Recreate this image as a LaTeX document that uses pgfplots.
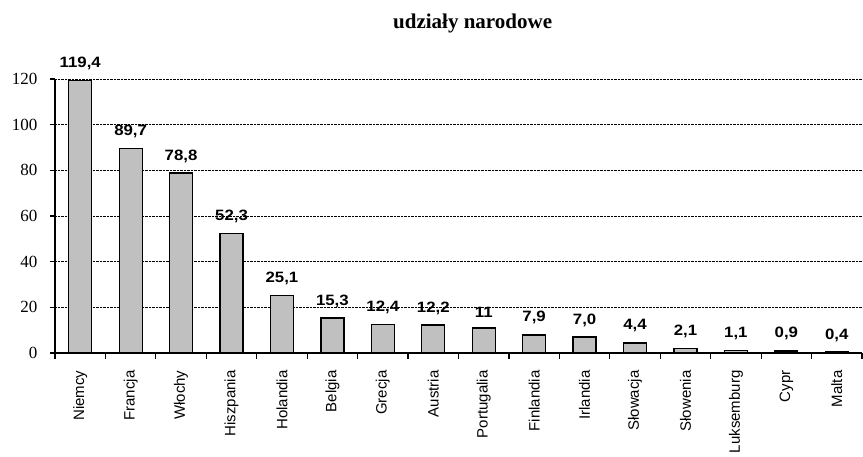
\documentclass[border=0pt]{standalone}
\usepackage{fontspec}
\setmainfont{Liberation Serif}
\newfontfamily\arial{Liberation Sans}
\newfontfamily\labfont[FakeStretch=1.12]{Liberation Sans Bold}
\usepackage{pgfplots}
\pgfplotsset{compat=1.18}
\usepackage{pgfplotstable}
\usetikzlibrary{calc}
\definecolor{barfill}{RGB}{192,192,192}
\pgfplotstableread{
x y lab
0 119.4 119,4
1 89.7 89,7
2 78.8 78,8
3 52.3 52,3
4 25.1 25,1
5 15.3 15,3
6 12.4 12,4
7 12.2 12,2
8 11 11
9 7.9 7,9
10 7.0 7,0
11 4.4 4,4
12 2.1 2,1
13 1.1 1,1
14 0.9 0,9
15 0.4 0,4
}\data
\begin{document}
\begin{tikzpicture}
\begin{axis}[
  scale only axis, width=807pt, height=274pt,
  xmin=-0.5, xmax=15.5, ymin=0, ymax=120,
  axis lines*=left,
  axis line style={line width=1.2pt},
  clip=false,
  ytick={0,20,...,120},
  ymajorgrids, grid style={densely dotted, black, line width=0.9pt},
  xtick={0,...,15},
  xticklabels={Niemcy,Francja,Włochy,Hiszpania,Holandia,Belgia,Grecja,Austria,Portugalia,Finlandia,Irlandia,Słowacja,Słowenia,Luksemburg,Cypr,Malta},
  major x tick style={draw=none},
  minor xtick={-0.5,0.5,...,15.5},
  tick align=outside,
  major tick length=5pt, minor tick length=6pt,
  tick style={line width=1.2pt, black},
  minor tick style={line width=1.2pt, black},
  xticklabel style={rotate=90, anchor=east, font=\arial\fontsize{15}{15}\selectfont, xshift=-9pt},
  yticklabel style={font=\fontsize{17}{17}\selectfont, xshift=-9pt},
  /pgf/number format/assume math mode=true,
]
\addplot[ybar, bar width=23pt, fill=barfill, draw=black, line width=1.3pt,
  nodes near coords, point meta=explicit symbolic,
  nodes near coords style={font=\labfont\fontsize{15}{15}\selectfont, anchor=south, inner sep=0pt, yshift=10pt}]
  table[x=x, y=y, meta=lab]{\data};
\coordinate (O) at (rel axis cs:0,0);
\coordinate (T) at (rel axis cs:1,1);
\end{axis}
\node[font=\bfseries\fontsize{21}{21}\selectfont, anchor=west, inner sep=0pt] at ($(O|-T)+(338pt,56pt)$) {udziały narodowe};
\pgfresetboundingbox
\path[use as bounding box] ($(O)+(-55pt,-104pt)$) rectangle ($(T)+(1pt,79pt)$);
\end{tikzpicture}
\end{document}
